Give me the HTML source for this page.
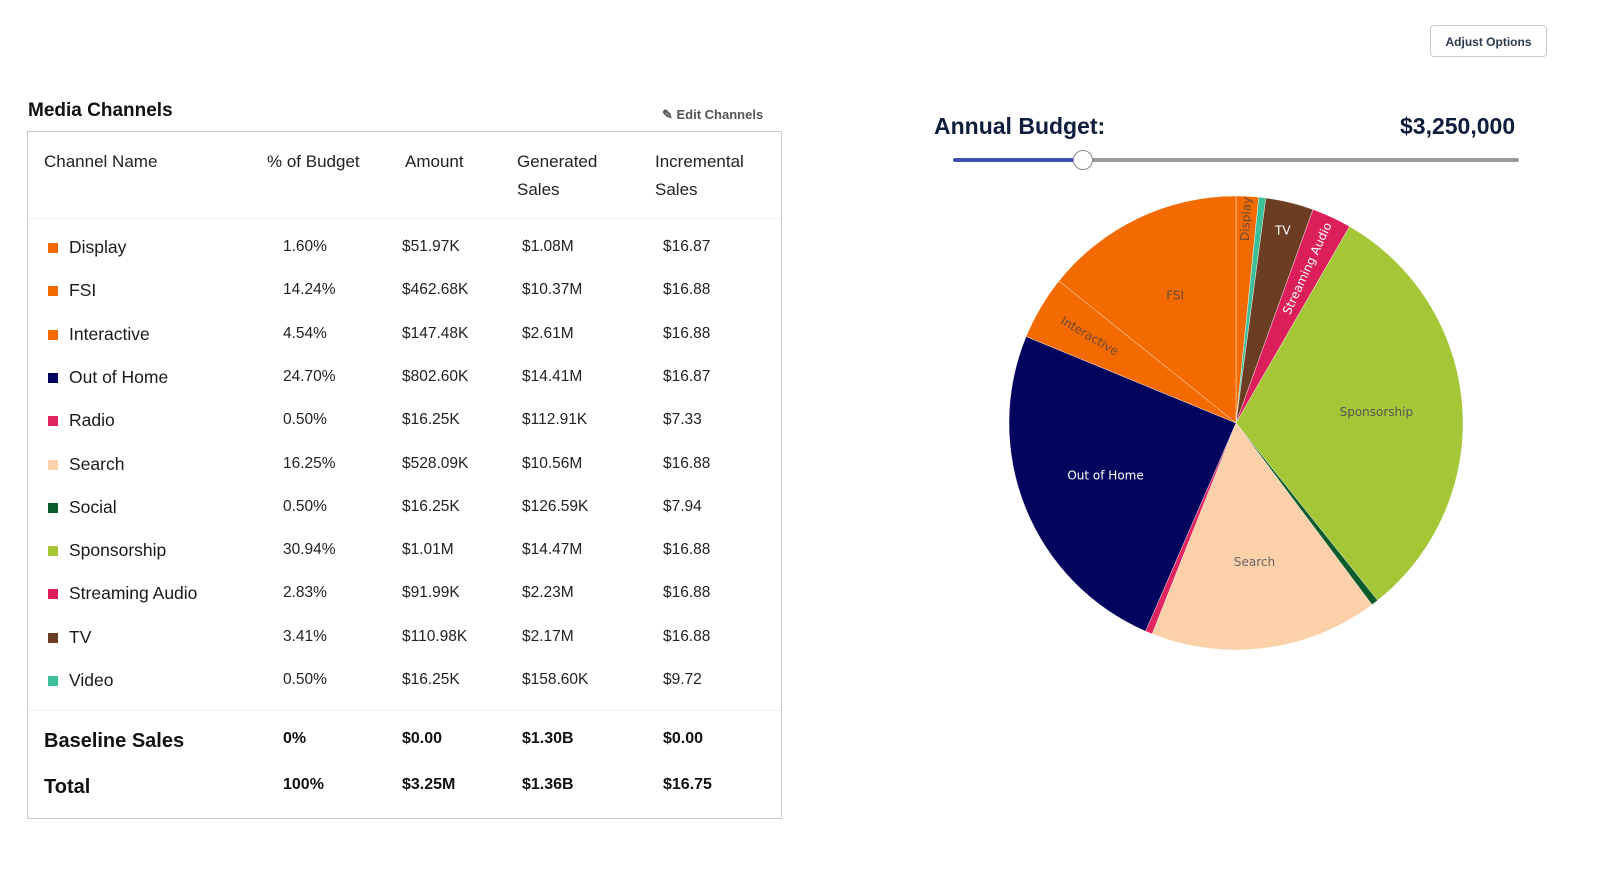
<!DOCTYPE html>
<html><head><meta charset="utf-8"><style>
body{margin:0;width:1600px;height:874px;background:#fff;font-family:"Liberation Sans",sans-serif;position:relative;overflow:hidden;color:#1a1a1a}
.abs{position:absolute}
#btn{left:1430px;top:25px;width:117px;height:32px;border:1px solid #c9c9c9;border-radius:4px;font-size:12px;font-weight:bold;color:#2d3a4f;text-align:center;line-height:32px;box-sizing:border-box}
#title{left:28px;top:100px;font-size:19px;font-weight:bold;color:#111}
#edit{left:662px;top:107px;font-size:13px;font-weight:bold;color:#555}
#box{left:27px;top:131px;width:755px;height:688px;border:1px solid #c8c8c8;box-sizing:border-box}
.h{font-size:17px;color:#222;line-height:28px}
.c{font-size:15.5px;color:#222}
.n{font-size:17.5px;color:#1a1a1a}
.sw{width:10px;height:10px}
.b{font-size:16px;font-weight:bold;color:#111}
.bl{font-size:20px;font-weight:bold;color:#111}
.hr{height:1px;background:#eee;left:28px;width:753px}
</style></head><body>
<div id="btn" class="abs">Adjust Options</div>
<div id="title" class="abs">Media Channels</div>
<div id="edit" class="abs">✎ Edit Channels</div>
<div id="box" class="abs"></div>
<div class="abs h" style="left:44px;top:148px">Channel Name</div>
<div class="abs h" style="left:267px;top:148px">% of Budget</div>
<div class="abs h" style="left:405px;top:148px">Amount</div>
<div class="abs h" style="left:517px;top:148px">Generated<br>Sales</div>
<div class="abs h" style="left:655px;top:148px">Incremental<br>Sales</div>
<div class="abs hr" style="top:218px"></div>
<div class="abs hr" style="top:710px"></div>
<div id="rows"></div>
<div class="abs bl" style="left:44px;top:730px">Baseline Sales</div>
<div class="abs b" style="left:283px;top:730px">0%</div>
<div class="abs b" style="left:402px;top:730px">$0.00</div>
<div class="abs b" style="left:522px;top:730px">$1.30B</div>
<div class="abs b" style="left:663px;top:730px">$0.00</div>
<div class="abs bl" style="left:44px;top:776px">Total</div>
<div class="abs b" style="left:283px;top:776px">100%</div>
<div class="abs b" style="left:402px;top:776px">$3.25M</div>
<div class="abs b" style="left:522px;top:776px">$1.36B</div>
<div class="abs b" style="left:663px;top:776px">$16.75</div>

<div class="abs" style="left:934px;top:113px;font-size:23px;font-weight:bold;color:#0f1d3d">Annual Budget:</div>
<div class="abs" style="left:1400px;top:113px;font-size:23px;font-weight:bold;color:#0f1d3d">$3,250,000</div>
<div class="abs" style="left:953px;top:158px;width:566px;height:4px;background:#999;border-radius:2px"></div>
<div class="abs" style="left:953px;top:158px;width:130px;height:4px;background:#3f51b5;border-radius:2px"></div>
<div class="abs" style="left:1073px;top:150px;width:18px;height:18px;border-radius:50%;background:#fff;border:1px solid #888"></div>
<svg class="abs" style="left:0;top:0" width="1600" height="874" id="pie"></svg>
<script>
const names=["Display","FSI","Interactive","Out of Home","Radio","Search","Social","Sponsorship","Streaming Audio","TV","Video"];
const pcts=[1.60,14.24,4.54,24.70,0.50,16.25,0.50,30.94,2.83,3.41,0.50];
const amounts=["$51.97K","$462.68K","$147.48K","$802.60K","$16.25K","$528.09K","$16.25K","$1.01M","$91.99K","$110.98K","$16.25K"];
const generated=["$1.08M","$10.37M","$2.61M","$14.41M","$112.91K","$10.56M","$126.59K","$14.47M","$2.23M","$2.17M","$158.60K"];
const incremental=["$16.87","$16.88","$16.88","$16.87","$7.33","$16.88","$7.94","$16.88","$16.88","$16.88","$9.72"];
const colors=["#f26a00","#f26a00","#f26a00","#03045e","#e0245e","#fcd0a9","#0b5b2b","#a5c737","#dc1f5b","#6b3e23","#3cc09a"];
const pieOrder=[0,10,9,8,7,6,5,4,3,2,1];
const labelMode=["radial","horiz","radial","horiz","none","horiz","none","horiz","radial","horiz","none"];
const labelColor=["#6b4a3a","#6b4a3a","#6b4a3a","#fff","#fff","#666","#fff","#555","#fff","#fff","#fff"];
const rows=document.getElementById('rows');
names.forEach((n,i)=>{
 const y=237+i*43.3;
 const mk=(cls,x,t,nm,st)=>{const d=document.createElement('div');d.className='abs '+cls;d.style.left=x+'px';d.style.top=(y+(st||0))+'px';d.textContent=t;
 
 
 rows.appendChild(d);return d;};
 const s=mk('sw',48,'', 'swatch-'+i,6);s.style.background=colors[i];
 mk('n',69,n,'channel-name-'+i,0);
 mk('c',283,pcts[i].toFixed(2)+'%','percent-'+i,1);
 mk('c',402,amounts[i],'amount-'+i,1);
 mk('c',522,generated[i],'generated-'+i,1);
 mk('c',663,incremental[i],'incremental-'+i,1);
});
const svg=document.getElementById('pie');const NS='http://www.w3.org/2000/svg';
const cx=1236,cy=423,R=227;
const total=pcts.reduce((a,b)=>a+b,0);
const pt=(a,r)=>[cx+r*Math.sin(a),cy-r*Math.cos(a)];
let acc=0;
pieOrder.forEach(i=>{
 const a0=acc/total*2*Math.PI;acc+=pcts[i];const a1=acc/total*2*Math.PI;
 const p0=pt(a0,R),p1=pt(a1,R);
 const path=document.createElementNS(NS,'path');
 path.setAttribute('d',`M${cx},${cy}L${p0[0]},${p0[1]}A${R},${R} 0 ${a1-a0>Math.PI?1:0} 1 ${p1[0]},${p1[1]}Z`);
 path.setAttribute('fill',colors[i]);path.setAttribute('stroke','#fff');path.setAttribute('stroke-width','0.4');
 
 
 svg.appendChild(path);
 const m=labelMode[i];if(m==='none')return;
 const am=(a0+a1)/2;
 let r;
 if(m==='horiz') r=(pcts[i]<5?0.87:0.62)*R; else r=(pcts[i]<2?0.9:0.75)*R;
 const p=pt(am,r);
 const t=document.createElementNS(NS,'text');
 t.setAttribute('x',p[0]);t.setAttribute('y',p[1]);t.setAttribute('text-anchor','middle');t.setAttribute('dominant-baseline','middle');
 t.setAttribute('font-size','12');t.setAttribute('font-family','"DejaVu Sans",sans-serif');t.setAttribute('fill',labelColor[i]);
 let deg=am*180/Math.PI;
 if(m==='radial'){let d=deg-90;while(d>90)d-=180;while(d<=-90)d+=180;t.setAttribute('transform',`rotate(${d} ${p[0]} ${p[1]})`);}
 t.textContent=names[i];
 
 
 svg.appendChild(t);
});
</script>
</body></html>
